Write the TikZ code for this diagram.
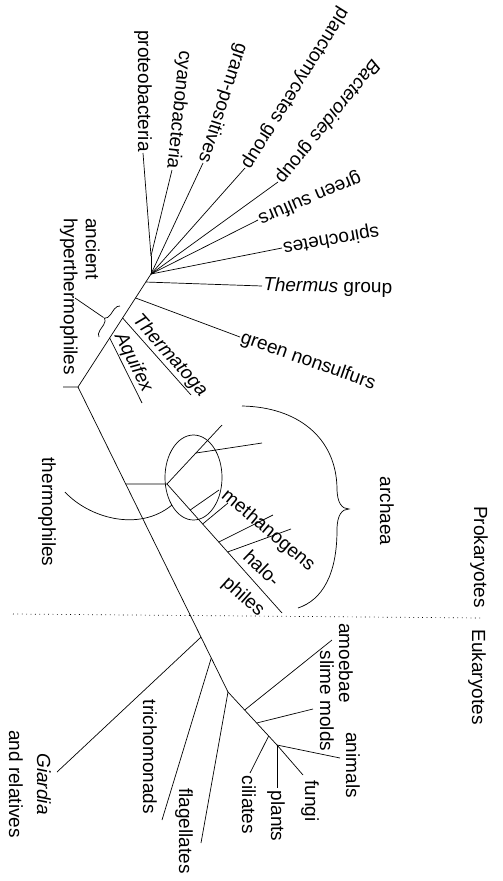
\documentclass[tikz,border=0pt]{standalone}
\usepackage{fontspec}
\setmainfont{Liberation Sans}
\usetikzlibrary{calc,decorations.pathreplacing}
\begin{document}
\begin{tikzpicture}[x=1pt,y=-1pt,line width=0.7pt,
  lab/.style={font=\fontsize{19}{22}\selectfont,inner sep=1pt},
  bracestyle/.style={decorate,decoration={brace,amplitude=6pt}},
  dotline/.style={dash pattern=on 0.8pt off 3.6pt}]
\useasboundingbox (0,0) rectangle (503,881);
% ---------------- bacteria ----------------
\coordinate (root) at (78,387);
\coordinate (tick) at (63,387);
\coordinate (fan) at (151,274);
\coordinate (pc) at (151,256);
\coordinate (bend) at (228,692);
\coordinate (b1) at ($(root)!0.434!(fan)$);
\coordinate (b2) at ($(root)!0.611!(fan)$);
\coordinate (b3) at ($(root)!0.788!(fan)$);
\coordinate (b4) at ($(root)!0.929!(fan)$);
\coordinate (thE) at (191,395);
\coordinate (aqE) at (142,403);

\node[lab,rotate=-90,anchor=east] (proteo) at (143,153) {proteobacteria};
\node[lab,rotate=-96,anchor=east] (cyano) at (172,170) {cyanobacteria};
\node[lab,rotate=-108,anchor=east] (gram) at (203,163) {gram-positives};
\node[lab,rotate=-122,anchor=east] (planc) at (245,168) {planctomycetes group};
\node[lab,rotate=-129,anchor=east] (bact) at (278,182) {\textit{Bacteroides} group};
\node[lab,rotate=-157,anchor=east] (gsulf) at (258,220) {green sulfurs};
\node[lab,rotate=-170,anchor=east] (spiro) at (282,248) {spirochetes};
\node[lab,rotate=-1,anchor=west] (therm) at (262,286) {\textit{Thermus} group};
\node[lab,rotate=-19.5,anchor=west] (gns) at (240,337) {green nonsulfurs};

\draw (pc) -- (proteo.east);
\draw (pc) -- (cyano.east);
\draw (pc) -- (fan);
\draw (fan) -- (gram.east);
\draw (fan) -- (planc.east);
\draw (fan) -- (bact.east);
\draw (fan) -- (gsulf.east);
\draw (fan) -- (spiro.east);
\draw (tick) -- (root) -- (fan);
\draw (b4) -- (therm.west);
\draw (b3) -- (gns.west);
\draw (b2) -- (thE) node[lab,pos=0.58,sloped,above] (thermatoga) {\textit{Thermatoga}};
\draw (b1) -- (aqE) node[lab,pos=0.45,sloped,above] (aquifex) {\textit{Aquifex}};

\node[lab,rotate=-90,anchor=north west,align=left] (ah) at (101,217) {ancient\\hyperthermophiles};
\draw[bracestyle] (99,337) -- (120,306);
\coordinate (bt) at (103.5,317.5);
\coordinate (ahl) at (75,298);
\draw (ahl) -- (bt);

% ---------------- archaea ----------------
\coordinate (a0) at ($(root)!0.318!(bend)$);
\coordinate (aj) at (167,484);
\coordinate (aup) at (222,425);
\coordinate (ab) at ($(aj)!0.525!(aup)$);
\coordinate (abE) at (262,443);
\coordinate (adn) at (282,613);
\coordinate (m1) at ($(aj)!0.2016!(adn)$);
\coordinate (m2) at ($(aj)!0.31!(adn)$);
\coordinate (m3) at ($(aj)!0.45!(adn)$);
\coordinate (m4) at ($(aj)!0.527!(adn)$);
\draw (root) -- (bend);
\draw (a0) -- (aj) -- (aup);
\draw (ab) -- (abE);
\draw (aj) -- (adn);
\draw (m1) -- (219,490);
\draw (m2) -- (228,503);
\draw (m3) -- (273,515);
\draw (m4) -- (291,529);
\draw (193.5,477.5) ellipse [x radius=28.5, y radius=42.5];

\node[lab,rotate=-90] (thermo) at (47,512) {thermophiles};
\draw (65,492) .. controls (88,517) and (138,533) .. (172,505);

\node[lab,rotate=-40] (meth) at (268,531) {methanogens};
\node[lab,rotate=-44] (halo) at (262,568) {halo-};
\node[lab,rotate=-42] (philes) at (243,597) {philes};
\node[lab,rotate=-90] (arch) at (387,511) {archaea};
\draw (242,406) .. controls (297,407) and (336,437) .. (337,488)
  .. controls (337,503) and (342,509) .. (349,509)
  .. controls (342,509) and (337,515) .. (337,530)
  .. controls (337,575) and (322,600) .. (298,608);

\node[lab,rotate=-90] (prok) at (479,557) {Prokaryotes};
\coordinate (dl) at (13,614);
\coordinate (dr) at (483,618);
\draw[dotline] (dl) -- (dr);
\node[lab,rotate=-90] (euk) at (477,677) {Eukaryotes};

% ---------------- eukaryotes ----------------
\coordinate (ej) at (277,745);
\coordinate (g0) at ($(root)!0.82!(bend)$);
\coordinate (t0) at ($(root)!0.8885!(bend)$);
\coordinate (am0) at ($(bend)!0.34!(ej)$);
\coordinate (sm0) at ($(bend)!0.585!(ej)$);
\coordinate (ci0) at ($(bend)!0.83!(ej)$);
\coordinate (gE) at (57,772);
\coordinate (tE) at (162,820);
\coordinate (fE) at (201,843);
\coordinate (amE) at (332,640);
\coordinate (smE) at (313,709);
\coordinate (ciE) at (250,773);
\coordinate (anE) at (340,758);
\coordinate (fuE) at (303,775);
\coordinate (plE) at (277,788);

\draw (bend) -- (ej);
\draw (g0) -- (gE);
\draw (t0) -- (tE);
\draw (bend) -- (fE);
\draw (am0) -- (amE);
\draw (sm0) -- (smE);
\draw (ci0) -- (ciE);
\draw (ej) -- (anE);
\draw (ej) -- (fuE);
\draw (ej) -- (plE);

\node[lab,rotate=-90] (amoebae) at (346,663) {amoebae};
\node[lab,rotate=-90] (slime) at (327,701) {slime molds};
\node[lab,rotate=-90] (animals) at (353,765) {animals};
\node[lab,rotate=-90] (fungi) at (310,801) {fungi};
\node[lab,rotate=-90] (plants) at (276,816) {plants};
\node[lab,rotate=-90] (ciliates) at (249,805) {ciliates};
\node[lab,rotate=-90] (flag) at (184,831) {flagellates};
\node[lab,rotate=-90] (trich) at (150,757) {trichomonads};
\node[lab,rotate=-90,align=center] (giardia) at (30,784) {\textit{Giardia}\\[6pt]and relatives};
\end{tikzpicture}
\end{document}
